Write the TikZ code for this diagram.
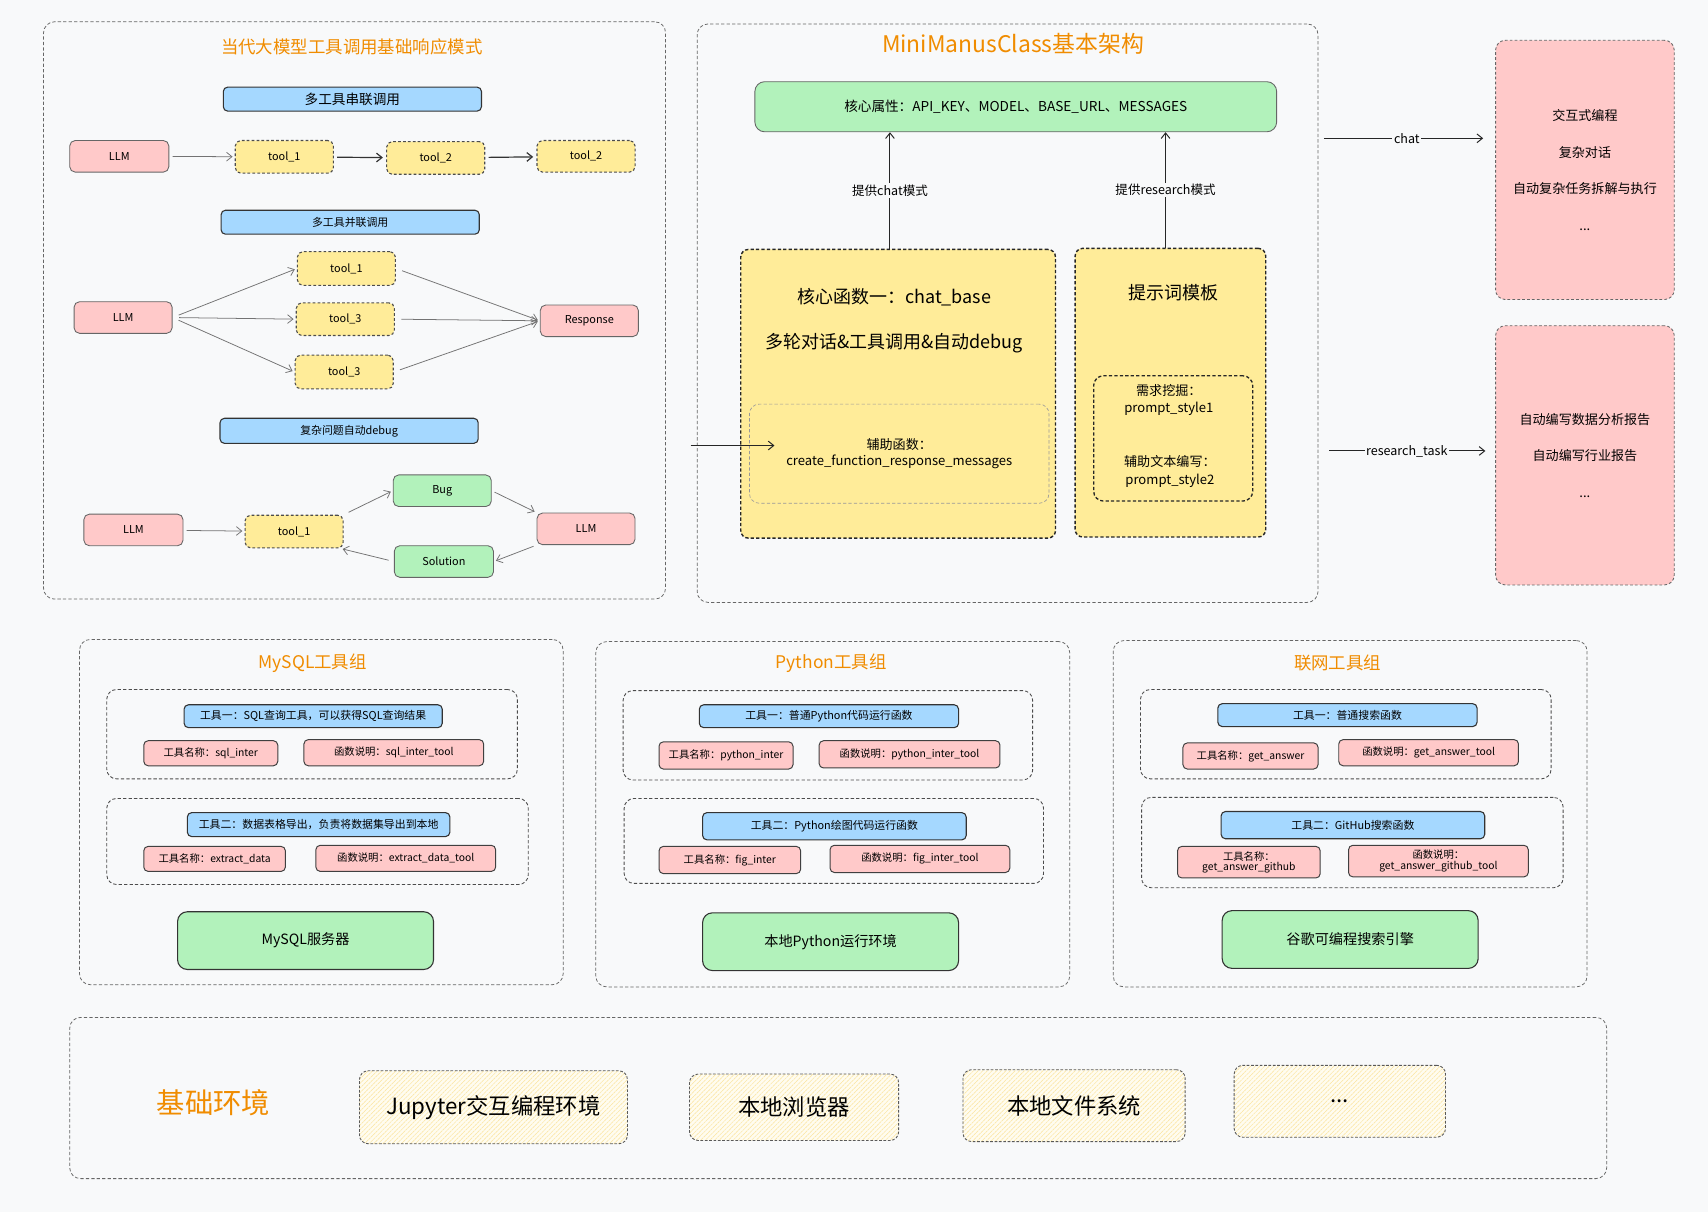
\documentclass[tikz,border=0pt]{standalone}
\usepackage{fontspec}
\setmainfont{Noto Sans CJK SC}
\usetikzlibrary{arrows.meta,patterns.meta}
\definecolor{bgc}{HTML}{F8F9FA}
\definecolor{pinkc}{HTML}{FFC9C9}
\definecolor{yelc}{HTML}{FFEC99}
\definecolor{bluec}{HTML}{A5D8FF}
\definecolor{greenc}{HTML}{B2F2BB}
\definecolor{orangec}{HTML}{F08C00}
\definecolor{hatchc}{HTML}{FBE7A8}
\definecolor{hatchbg}{HTML}{FFFCF0}
\newcommand\mybox[7]{\node[#2, minimum width={(#5-#3)*1pt}, minimum height={(#6-#4)*1pt}] (#1) at ({(#3+#5)/2},{(#4+#6)/2}) {#7};}
\newcommand\fsz[1]{\fontsize{#1pt}{#1pt}\selectfont}
\begin{document}
\begin{tikzpicture}[x=1pt,y=-1pt,
  outer/.style={draw=black!60, dash pattern=on 3pt off 2pt, rounded corners=10pt, line width=0.7pt, inner sep=0pt},
  innerd/.style={draw=black!70, dash pattern=on 3pt off 2pt, rounded corners=9pt, line width=0.8pt, inner sep=0pt},
  pinkn/.style={fill=pinkc, draw=black!60, rounded corners=5pt, line width=0.8pt, inner sep=1pt, font=\fsz{10}},
  pinks/.style={fill=pinkc, draw=black!75, rounded corners=4pt, line width=0.9pt, inner sep=1pt, font=\fsz{9.5}, align=center},
  yel/.style={fill=yelc, draw=black!70, dash pattern=on 2.5pt off 2pt, rounded corners=5pt, line width=1pt, inner sep=1pt, font=\fsz{10}},
  yelthick/.style={fill=yelc, draw=black!85, dash pattern=on 3pt off 2pt, rounded corners=7pt, line width=1.3pt, inner sep=0pt},
  bluebar/.style={fill=bluec, draw=black!80, rounded corners=4pt, line width=1pt, inner sep=1pt, font=\fsz{10}},
  greenn/.style={fill=greenc, draw=black!60, rounded corners=5pt, line width=0.8pt, inner sep=1pt, font=\fsz{10}},
  greenb/.style={fill=greenc, draw=black!80, rounded corners=9pt, line width=1pt, inner sep=1pt, font=\fsz{13}},
  pinkd/.style={fill=pinkc, draw=black!60, dash pattern=on 2.5pt off 2pt, rounded corners=9pt, line width=0.8pt, inner sep=0pt, align=center},
  hatch/.style={preaction={fill=hatchbg}, pattern={Lines[angle=45,distance=3pt,line width=0.6pt]}, pattern color=hatchc, draw=black!65, dash pattern=on 2.5pt off 1.5pt, rounded corners=8pt, line width=0.8pt, font=\fsz{20.5}},
  ttl/.style={text=orangec, font=\fsz{16}},
  garr/.style={-{Straight Barb[length=5pt,width=8pt]}, draw=black!55, line width=0.7pt, shorten <=3pt, shorten >=2pt},
  darr/.style={-{Straight Barb[length=5pt,width=8pt]}, draw=black!80, line width=1.1pt, shorten <=3pt, shorten >=3pt},
  barr/.style={-{Straight Barb[length=5pt,width=8pt]}, draw=black!85, line width=0.9pt},
  lbl/.style={fill=bgc, inner sep=1.5pt, font=\fsz{11.5}}
]
\fill[bgc] (0,0) rectangle (1568,1113);
\useasboundingbox (0,0) rectangle (1568,1113);

% ---------------- Box A ----------------
\mybox{boxA}{outer}{40}{20}{611}{550}{}
\node[ttl] (titA) at (323,43) {当代大模型工具调用基础响应模式};
\mybox{barA1}{bluebar,font=\fsz{12.5}}{205}{80}{442}{102}{多工具串联调用}
\mybox{s1}{pinkn}{64}{129}{155}{158}{LLM}
\mybox{s2}{yel}{216}{129}{306}{159}{tool\_1}
\mybox{s3}{yel}{355}{130}{445}{160}{tool\_2}
\mybox{s4}{yel}{493}{129}{583}{158}{tool\_2}
\draw[garr] (s1) -- (s2);
\draw[darr] (s2) -- (s3);
\draw[darr] (s3) -- (s4);

\mybox{barA2}{bluebar}{203}{193}{440}{215}{多工具并联调用}
\mybox{p0}{pinkn}{68}{277}{158}{306}{LLM}
\mybox{p1}{yel}{273}{231}{363}{262}{tool\_1}
\mybox{p2}{yel}{272}{278}{362}{308}{tool\_3}
\mybox{p3}{yel}{271}{326}{361}{357}{tool\_3}
\mybox{pr}{pinkn}{496}{280}{586}{309}{Response}
\draw[garr,shorten <=6pt] (p0.east) -- (p1.west);
\draw[garr,shorten <=6pt] (p0.east) -- (p2.west);
\draw[garr,shorten <=6pt] (p0.east) -- (p3.west);
\draw[garr,shorten <=6pt] (p1.east) -- (pr.west);
\draw[garr,shorten <=6pt] (p2.east) -- (pr.west);
\draw[garr,shorten <=6pt] (p3.east) -- (pr.west);

\mybox{barA3}{bluebar}{202}{384}{439}{407}{复杂问题自动debug}
\mybox{d0}{pinkn}{77}{472}{168}{501}{LLM}
\mybox{d1}{yel}{225}{473}{315}{503}{tool\_1}
\mybox{db}{greenn}{361}{436}{451}{465}{Bug}
\mybox{ds}{greenn}{362}{501}{453}{530}{Solution}
\mybox{d2}{pinkn}{493}{471}{583}{500}{LLM}
\draw[garr] (d0) -- (d1);
\draw[garr,shorten <=5pt] (d1.north east) -- (db.west);
\draw[garr] (db.east) -- (d2.north west);
\draw[garr] (d2.south west) -- (ds.east);
\draw[garr,shorten <=5pt] (ds.west) -- (d1.-20);

% ---------------- Box B ----------------
\mybox{boxB}{outer}{640}{22}{1210}{553}{}
\node[ttl,font=\fsz{21}] (titB) at (930,40) {MiniManusClass基本架构};
\mybox{attr}{greenn,font=\fsz{12.5},rounded corners=9pt}{693}{75}{1172}{121}{核心属性：API\_KEY、MODEL、BASE\_URL、MESSAGES}
\mybox{cb}{yelthick}{680}{229}{969}{494}{}
\node[font=\fsz{16.5}] (cbt1) at (821,273) {核心函数一：chat\_base};
\node[font=\fsz{16.5}] (cbt2) at (821,315) {多轮对话\&工具调用\&自动debug};
\mybox{aux}{innerd,draw=black!40,line width=0.6pt,align=center,font=\fsz{12}}{688}{371}{963}{462}{辅助函数：\\[3pt]create\_function\_response\_messages}
\mybox{pt}{yelthick}{987}{228}{1162}{493}{}
\node[font=\fsz{16.5}] (ptt) at (1077,269) {提示词模板};
\mybox{ps}{innerd,draw=black!85,line width=1.2pt}{1004}{345}{1150}{460}{}
\node[align=center,font=\fsz{12}] (ps1) at (1073,367) {需求挖掘：\\[4pt]prompt\_style1};
\node[align=center,font=\fsz{12}] (ps2) at (1074,433) {辅助文本编写：\\[4pt]prompt\_style2};
\coordinate (cx1) at (817,0);
\coordinate (cx2) at (1070,0);
\draw[barr] (cb.north -| cx1) -- node[lbl,pos=0.5] {提供chat模式} (attr.south -| cx1);
\draw[barr] (pt.north -| cx2) -- node[lbl,pos=0.5] {提供research模式} (attr.south -| cx2);
\coordinate (inL) at (634,409);
\coordinate (inR) at (711,409);
\draw[barr] (inL) -- (inR);

% ---------------- Right ----------------
\mybox{r1}{pinkd,font=\fsz{12}}{1373}{37}{1537}{275}{交互式编程\\[21.5pt]复杂对话\\[21.5pt]自动复杂任务拆解与执行\\[21.5pt]...}
\mybox{r2}{pinkd,font=\fsz{12}}{1373}{299}{1537}{537}{自动编写数据分析报告\\[21.5pt]自动编写行业报告\\[21.5pt]...}
\coordinate (cy1) at (0,127);
\coordinate (cy2) at (0,414);
\draw[barr,shorten <=5pt,shorten >=11pt] (boxB.east |- cy1) -- node[lbl] {chat} (r1.west |- cy1);
\draw[barr,shorten <=10pt,shorten >=9pt] (boxB.east |- cy2) -- node[lbl] {research\_task} (r2.west |- cy2);

% ---------------- MySQL group ----------------
\mybox{gm}{outer}{73}{587}{517}{904}{}
\node[ttl] (gmt) at (287,609) {MySQL工具组};
\mybox{gm1}{innerd}{98}{633}{475}{715}{}
\mybox{gm1b}{bluebar}{169}{647}{406}{668}{工具一：SQL查询工具，可以获得SQL查询结果}
\mybox{gm1n}{pinks}{132}{680}{255}{703}{工具名称：sql\_inter}
\mybox{gm1f}{pinks}{279}{679}{444}{703}{函数说明：sql\_inter\_tool}
\mybox{gm2}{innerd}{98}{733}{485}{812}{}
\mybox{gm2b}{bluebar}{172}{746}{413}{768}{工具二：数据表格导出，负责将数据集导出到本地}
\mybox{gm2n}{pinks}{132}{777}{262}{800}{工具名称：extract\_data}
\mybox{gm2f}{pinks}{290}{776}{455}{800}{函数说明：extract\_data\_tool}
\mybox{gms}{greenb}{163}{837}{398}{890}{MySQL服务器}

% ---------------- Python group ----------------
\mybox{gp}{outer}{547}{589}{982}{906}{}
\node[ttl] (gpt) at (763,609) {Python工具组};
\mybox{gp1}{innerd}{572}{634}{948}{716}{}
\mybox{gp1b}{bluebar}{642}{647}{880}{668}{工具一：普通Python代码运行函数}
\mybox{gp1n}{pinks}{605}{681}{728}{706}{工具名称：python\_inter}
\mybox{gp1f}{pinks}{752}{680}{918}{705}{函数说明：python\_inter\_tool}
\mybox{gp2}{innerd}{573}{733}{958}{811}{}
\mybox{gp2b}{bluebar}{645}{746}{887}{771}{工具二：Python绘图代码运行函数}
\mybox{gp2n}{pinks}{605}{777}{735}{802}{工具名称：fig\_inter}
\mybox{gp2f}{pinks}{762}{776}{927}{801}{函数说明：fig\_inter\_tool}
\mybox{gps}{greenb}{645}{838}{880}{891}{本地Python运行环境}

% ---------------- Web group ----------------
\mybox{gw}{outer}{1022}{588}{1457}{906}{}
\node[ttl] (gwt) at (1228,609) {联网工具组};
\mybox{gw1}{innerd}{1047}{633}{1424}{715}{}
\mybox{gw1b}{bluebar}{1118}{646}{1356}{667}{工具一：普通搜索函数}
\mybox{gw1n}{pinks}{1086}{682}{1210}{706}{工具名称：get\_answer}
\mybox{gw1f}{pinks}{1229}{679}{1394}{703}{函数说明：get\_answer\_tool}
\mybox{gw2}{innerd}{1048}{732}{1435}{815}{}
\mybox{gw2b}{bluebar}{1121}{745}{1363}{770}{工具二：GitHub搜索函数}
\mybox{gw2n}{pinks}{1081}{777}{1212}{806}{工具名称：\\get\_answer\_github}
\mybox{gw2f}{pinks}{1238}{776}{1403}{805}{函数说明：\\get\_answer\_github\_tool}
\mybox{gws}{greenb}{1122}{836}{1357}{889}{谷歌可编程搜索引擎}

% ---------------- Base ----------------
\mybox{base}{outer}{64}{934}{1475}{1082}{}
\node[ttl,font=\fsz{26}] (baset) at (196,1012) {基础环境};
\mybox{e1}{hatch}{330}{983}{576}{1050}{Jupyter交互编程环境}
\mybox{e2}{hatch}{633}{986}{825}{1047}{本地浏览器}
\mybox{e3}{hatch}{884}{982}{1088}{1048}{本地文件系统}
\mybox{e4}{hatch}{1133}{978}{1327}{1044}{...}
\end{tikzpicture}
\end{document}
